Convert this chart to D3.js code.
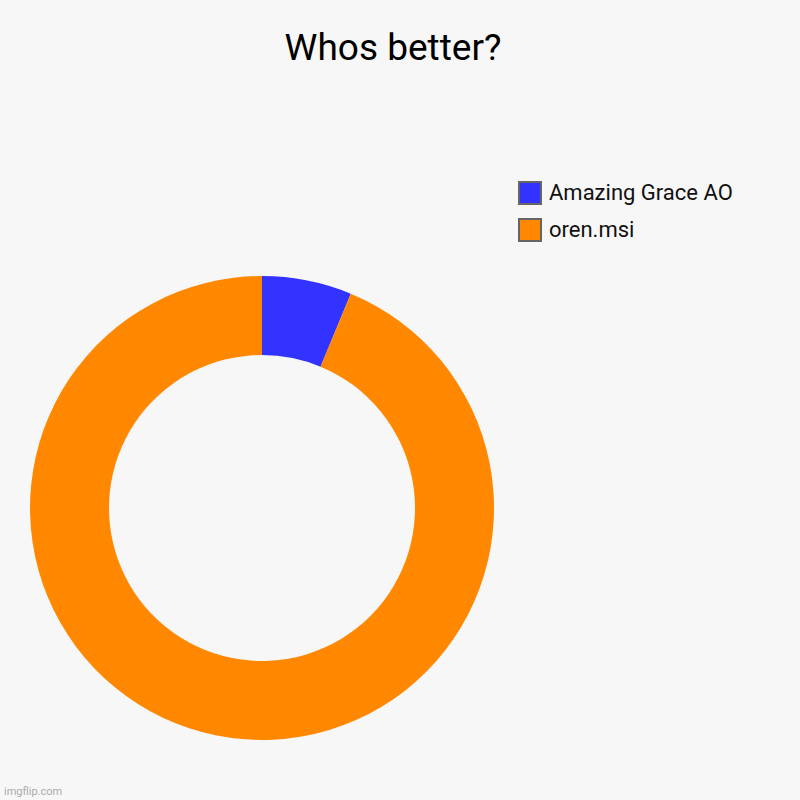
<!DOCTYPE html>
<html>
<head>
<meta charset="utf-8">
<script src="https://cdn.jsdelivr.net/npm/d3@7"></script>
<style>
  body { margin: 0; background: #f7f7f7; }
  text { font-family: Roboto, sans-serif; }
</style>
</head>
<body>
<div class="chart"></div>
<script>
const width = 800;
const height = 800;

const labels = ["Amazing Grace AO", "oren.msi"];
const values = [1, 15];
const colors = ["#3333ff", "#ff8800"];

const data = labels.map((d, i) => ({ label: d, value: values[i], color: colors[i] }));

const svg = d3
  .select(".chart")
  .append("svg")
  .attr("width", width)
  .attr("height", height);

svg.append("rect")
  .attr("width", width)
  .attr("height", height)
  .attr("fill", "#f7f7f7");

svg.append("text")
  .attr("x", 393)
  .attr("y", 60)
  .attr("text-anchor", "middle")
  .attr("font-size", "37px")
  .attr("fill", "#000")
  .text("Whos better?");

const pie = d3.pie().sort(null).value(d => d.value);
const arc = d3.arc().innerRadius(153).outerRadius(232);

const g = svg.append("g")
  .attr("transform", "translate(262, 508)");

g.selectAll(".slice")
  .data(pie(data))
  .enter()
  .append("path")
  .attr("class", "slice")
  .attr("fill", d => d.data.color)
  .attr("d", arc);

const legend = svg.append("g")
  .attr("transform", "translate(519, 182)");

const items = legend.selectAll(".item")
  .data(data)
  .enter()
  .append("g")
  .attr("class", "item")
  .attr("transform", (d, i) => `translate(0, ${i * 37})`);

items.append("rect")
  .attr("width", 22)
  .attr("height", 22)
  .attr("fill", d => d.color)
  .attr("stroke", "#666")
  .attr("stroke-width", 2);

items.append("text")
  .attr("x", 30)
  .attr("y", 18)
  .attr("font-size", "22px")
  .attr("fill", "#111")
  .text(d => d.label);

svg.append("text")
  .attr("x", 4)
  .attr("y", 795)
  .attr("font-size", "11px")
  .attr("fill", "#aaa")
  .text("imgflip.com");
</script>
</body>
</html>
